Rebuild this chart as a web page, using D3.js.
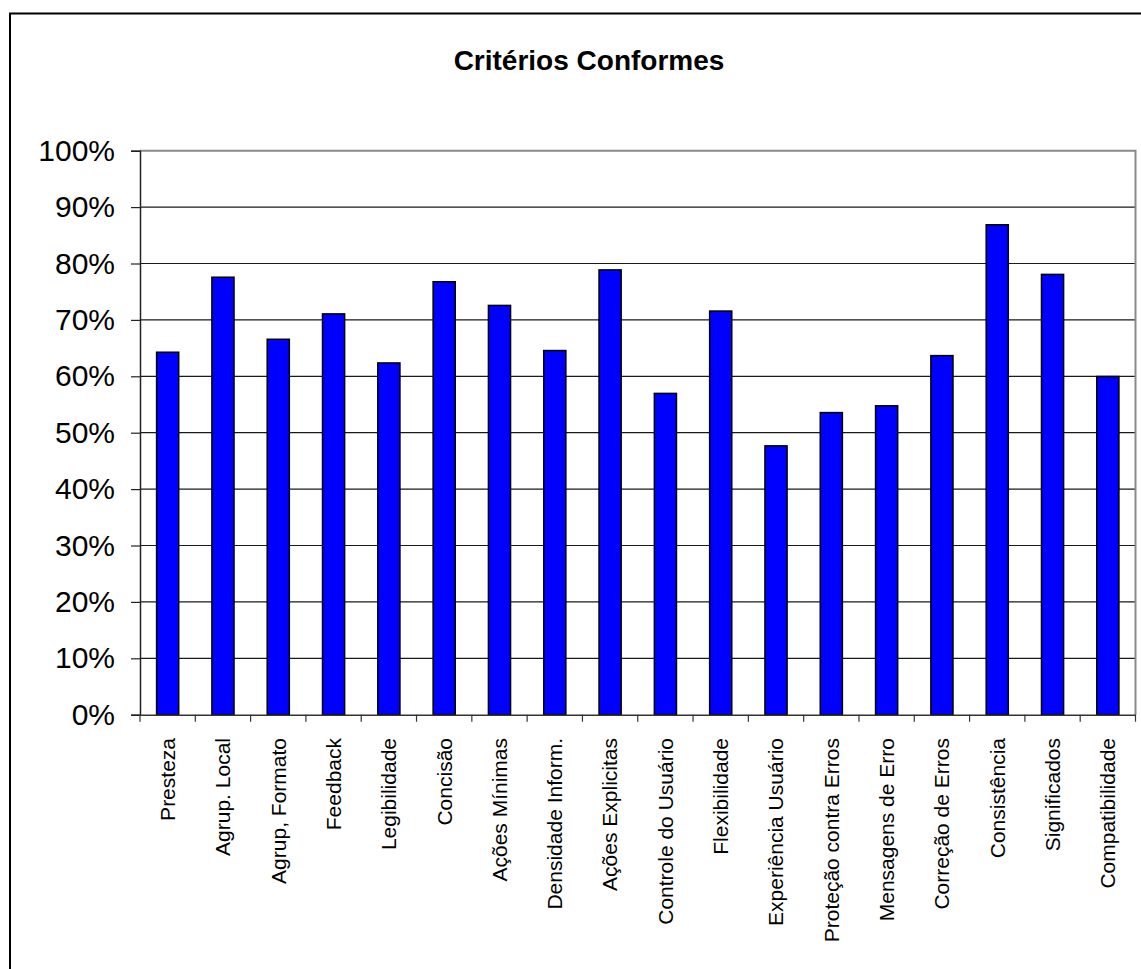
<!DOCTYPE html>
<html>
<head>
<meta charset="utf-8">
<script src="https://cdn.jsdelivr.net/npm/d3@7/dist/d3.min.js"></script>
<style>
  html, body { margin: 0; padding: 0; background: #fff; }
  svg { display: block; font-family: "Liberation Sans", Arial, sans-serif; }
</style>
</head>
<body>
<svg id="chart" width="1141" height="969"></svg>
<script>
// Percent of conforming items per ergonomic criterion
const categories = [
  "Presteza", "Agrup. Local", "Agrup, Formato", "Feedback", "Legibilidade",
  "Concisão", "Ações Mínimas", "Densidade Inform.", "Ações Explicitas",
  "Controle do Usuário", "Flexibilidade", "Experiência Usuário",
  "Proteção contra Erros", "Mensagens de Erro", "Correção de Erros",
  "Consistência", "Significados", "Compatibilidade"
];
const values = [
  64.4, 77.7, 66.7, 71.2, 62.5,
  76.9, 72.7, 64.7, 79.0,
  57.1, 71.7, 47.8,
  53.7, 54.9, 63.8,
  87.0, 78.2, 60.1
];
const yTicks = [0, 10, 20, 30, 40, 50, 60, 70, 80, 90, 100];
const titleText = "Critérios Conformes";

const svg = d3.select("#chart");

// outer chart frame (runs past the right and bottom edges of the page)
svg.append("rect")
  .attr("x", 10).attr("y", 13.5)
  .attr("width", 1160).attr("height", 1000)
  .attr("fill", "#fff")
  .attr("stroke", "#000").attr("stroke-width", 2);

const plot = { left: 140, right: 1135.5, top: 150.7, bottom: 714.7 };

const x = d3.scaleBand()
  .domain(categories)
  .range([plot.left, plot.right])
  .paddingInner(0).paddingOuter(0);

const y = d3.scaleLinear()
  .domain([0, 100])
  .range([plot.bottom, plot.top]);

// title
svg.append("text")
  .attr("x", 589).attr("y", 70)
  .attr("text-anchor", "middle")
  .attr("font-size", 28).attr("font-weight", "bold")
  .attr("fill", "#000")
  .text(titleText);

// horizontal gridlines
svg.append("g")
  .selectAll("line")
  .data(yTicks.filter(d => d > 0 && d < 100))
  .join("line")
  .attr("x1", plot.left).attr("x2", plot.right)
  .attr("y1", d => y(d)).attr("y2", d => y(d))
  .attr("stroke", "#1a1a1a").attr("stroke-width", 1.2);

// plot area border (top and right, gray)
svg.append("path")
  .attr("d", `M${plot.left},${y(100)}H${plot.right}V${plot.bottom}`)
  .attr("fill", "none")
  .attr("stroke", "#8a8a8a").attr("stroke-width", 2);

// bars
const barFrac = 0.4;
const bw = x.bandwidth() * barFrac;
svg.append("g")
  .selectAll("rect")
  .data(categories.map((c, i) => ({ c, v: values[i] })))
  .join("rect")
  .attr("x", d => x(d.c) + (x.bandwidth() - bw) / 2)
  .attr("y", d => y(d.v) + 0.75)
  .attr("width", bw)
  .attr("height", d => y(0) - y(d.v) - 0.75)
  .attr("fill", "#0000ff")
  .attr("stroke", "#000")
  .attr("stroke-width", 1.5);

// y axis
const yAxis = d3.axisLeft(y)
  .tickValues(yTicks)
  .tickSize(9)
  .tickPadding(16)
  .tickFormat(d => d + "%");
const gy = svg.append("g")
  .attr("transform", `translate(${plot.left},0)`)
  .call(yAxis);
gy.select(".domain").attr("stroke", "#222").attr("stroke-width", 1.5);
gy.selectAll(".tick line").attr("stroke", "#222").attr("stroke-width", 1.2);
gy.selectAll(".tick text")
  .attr("font-size", 30)
  .attr("font-family", "Liberation Sans, Arial, sans-serif")
  .attr("fill", "#000");

// x axis baseline
const xAxis = d3.axisBottom(x).tickSize(0).tickFormat("");
const gx = svg.append("g")
  .attr("transform", `translate(0,${plot.bottom})`)
  .call(xAxis);
gx.select(".domain").attr("stroke", "#333").attr("stroke-width", 1.5);

// tick marks at category boundaries
const boundaries = categories.map(c => x(c)).concat([x.range()[1]]);
svg.append("g")
  .selectAll("line")
  .data(boundaries)
  .join("line")
  .attr("x1", d => d).attr("x2", d => d)
  .attr("y1", plot.bottom).attr("y2", plot.bottom + 7)
  .attr("stroke", "#333").attr("stroke-width", 1.2);

// rotated category labels
svg.append("g")
  .selectAll("text")
  .data(categories)
  .join("text")
  .attr("transform", d => `translate(${x(d) + x.bandwidth() / 2},738) rotate(-90)`)
  .attr("text-anchor", "end")
  .attr("dy", "0.35em")
  .attr("font-size", 21)
  .attr("fill", "#000")
  .text(d => d);
</script>
</body>
</html>
